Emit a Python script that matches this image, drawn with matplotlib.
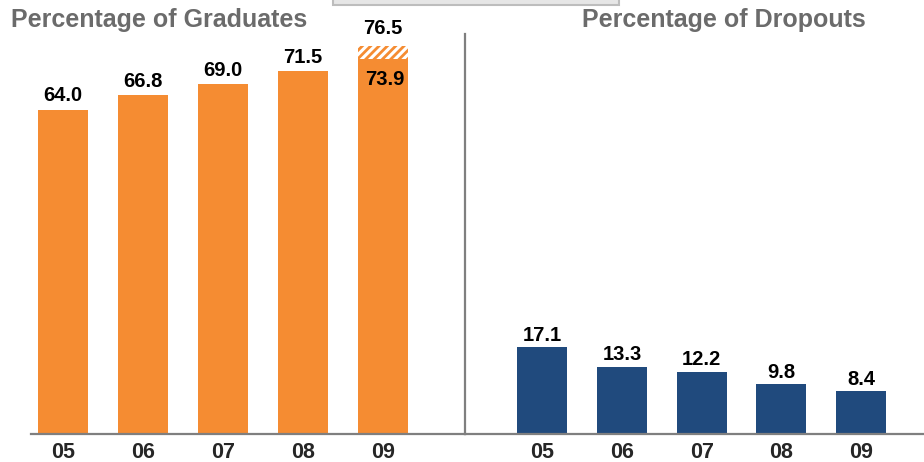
import matplotlib
matplotlib.use("Agg")
import matplotlib.pyplot as plt
from matplotlib.patches import Rectangle

# ─────────────────────────────────────────────────────────────
# Data
# ─────────────────────────────────────────────────────────────
years = ["05", "06", "07", "08", "09"]
graduates = [64.0, 66.8, 69.0, 71.5, 73.9]
graduates_target_09 = 76.5
dropouts = [17.1, 13.3, 12.2, 9.8, 8.4]

ORANGE = "#F58C32"
NAVY = "#204A7D"
GRAY = "#7F7F7F"
TITLE_GRAY = "#6B6B6B"

plt.rcParams["hatch.linewidth"] = 2.0
label_font = dict(family=["Liberation Sans", "DejaVu Sans"],
                  fontsize=14.5, fontweight="bold", color="black")
tick_font = dict(family=["Liberation Sans", "DejaVu Sans"], fontsize=15.5,
                 fontweight="bold", color="#262626")

W, H = 924, 462
fig = plt.figure(figsize=(W / 100, H / 100), dpi=100)

base = (H - 434) / H
top = 434 / H
ymax = 434 / 5.07

ax1 = fig.add_axes([31 / W, base, (465 - 31) / W, top])
ax2 = fig.add_axes([465 / W, base, (W - 465) / W, top])

x = range(len(years))
width = 0.625

# Graduates
ax1.bar(x, graduates, width=width, color=ORANGE, zorder=2)
ax1.bar(4, graduates_target_09 - graduates[4], bottom=graduates[4], width=width,
        facecolor="white", edgecolor=ORANGE, hatch="////", linewidth=0, zorder=2)
for i, v in enumerate(graduates[:4]):
    ax1.annotate(f"{v:.1f}", (i, v), xytext=(0, 3), textcoords="offset points",
                 ha="center", va="bottom", **label_font)
ax1.annotate(f"{graduates[4]:.1f}", (4, graduates[4]), xytext=(1.5, -8),
             textcoords="offset points", ha="center", va="top", **label_font)
ax1.annotate(f"{graduates_target_09:.1f}", (4, graduates_target_09), xytext=(0, 6),
             textcoords="offset points", ha="center", va="bottom", **label_font)
ax1.set_xlim(-0.4, 5.03)

# Dropouts
ax2.bar(x, dropouts, width=width, color=NAVY, zorder=2)
for i, v in enumerate(dropouts):
    ax2.annotate(f"{v:.1f}", (i, v), xytext=(0, 2), textcoords="offset points",
                 ha="center", va="bottom", **label_font)
ax2.set_xlim(-0.97, 4.79)

for ax in (ax1, ax2):
    ax.set_ylim(0, ymax)
    ax.set_yticks([])
    ax.set_xticks(list(x))
    ax.set_xticklabels(years, **tick_font)
    ax.tick_params(axis="x", length=0, pad=6)
    for s in ("top", "left", "right"):
        ax.spines[s].set_visible(False)
    ax.spines["bottom"].set_color(GRAY)
    ax.spines["bottom"].set_linewidth(1.6)
    ax.spines["bottom"].set_zorder(3)
    ax.set_facecolor("none")

# separator between the two panels
ax1.plot([1, 1], [0, (434 - 34) / 434], transform=ax1.transAxes, color=GRAY,
         linewidth=1.6, clip_on=False, zorder=3)

# titles
title_font = dict(family=["Liberation Sans", "DejaVu Sans"], fontsize=18,
                  fontweight="bold", color=TITLE_GRAY, va="center", ha="left")
fig.text(11 / W, 1 - 20 / H, "Percentage of Graduates", **title_font)
fig.text(582 / W, 1 - 20 / H, "Percentage of Dropouts", **title_font)

# clipped box at top edge
fig.patches.append(Rectangle((333 / W, 1 - 5 / H), (619 - 333) / W, 10 / H,
                             transform=fig.transFigure, facecolor="#E6E6E6",
                             edgecolor="#BDBDBD", linewidth=1.5))

fig.savefig("out.png", dpi=100)
